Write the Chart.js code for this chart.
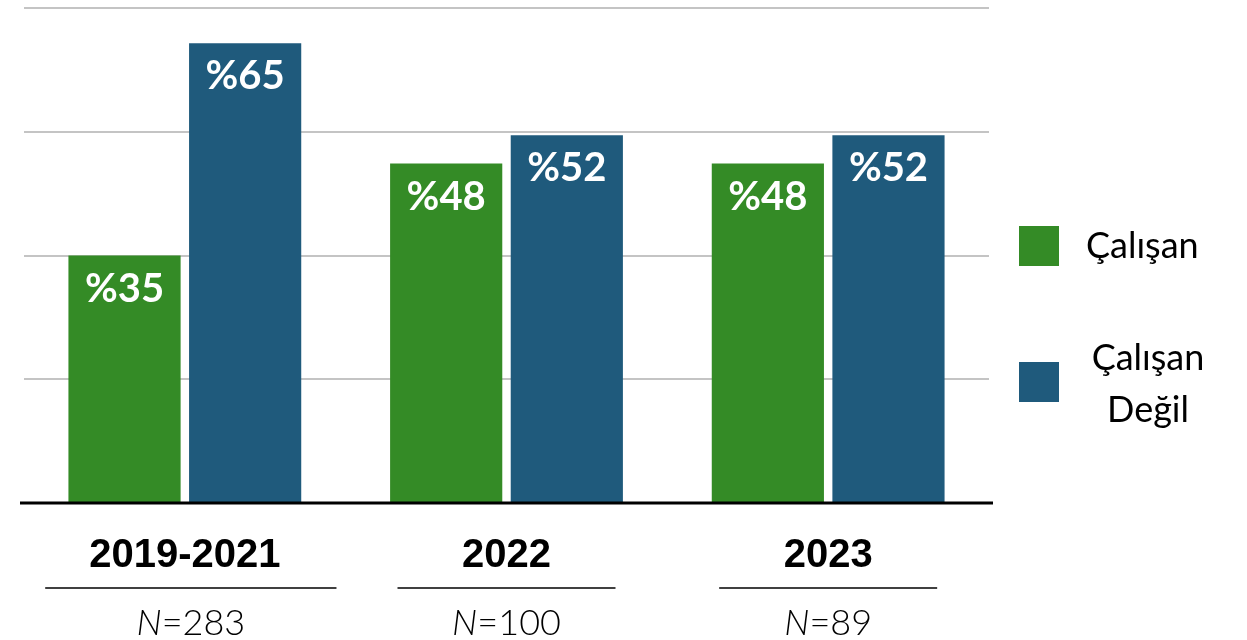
<!DOCTYPE html>
<html>
<head>
<meta charset="utf-8">
<script src="https://cdn.jsdelivr.net/npm/chart.js@4"></script>
<style>
  body { margin: 0; background: #fff; }
  #wrap { width: 1247px; height: 640px; }
</style>
</head>
<body>
<div id="wrap"><canvas id="myChart"></canvas></div>
<script>
var categories = ["2019-2021", "2022", "2023"];
var sampleSizes = ["283", "100", "89"];
var calisan = [35, 48, 48];
var calisanDegil = [65, 52, 52];
var seriesNames = ["Çalışan", ["Çalışan", "Değil"]];
var yMax = 70;
var yStep = 17.5;

var green = "#348b26";
var blue = "#1f5a7c";

// labels inside bars, category labels + N under the axis, legend on the right
var extras = {
  id: "extras",
  afterDatasetsDraw: function(chart) {
    var ctx = chart.ctx;
    var area = chart.chartArea;
    var x = chart.scales.x;

    ctx.save();
    // baseline
    ctx.strokeStyle = "#000";
    ctx.lineWidth = 3;
    ctx.beginPath();
    ctx.moveTo(area.left - 4, area.bottom);
    ctx.lineTo(area.right + 4, area.bottom);
    ctx.stroke();

    // value labels
    ctx.fillStyle = "#fff";
    ctx.font = "bold 40px Lato, 'Open Sans', sans-serif";
    ctx.textAlign = "center";
    ctx.textBaseline = "alphabetic";
    chart.data.datasets.forEach(function(ds, i) {
      chart.getDatasetMeta(i).data.forEach(function(bar, j) {
        ctx.fillText("%" + ds.data[j], bar.x, bar.y + 46);
      });
    });

    // category labels
    categories.forEach(function(cat, j) {
      var cx = x.getPixelForValue(j);
      ctx.fillStyle = "#000";
      ctx.font = "bold 40px 'Liberation Sans', Arial, sans-serif";
      ctx.textAlign = "center";
      ctx.fillText(cat, cx, 567);
      var w = Math.max(ctx.measureText(cat).width + 100, 218);
      var lx = j === 0 ? cx + 6 : cx;
      ctx.strokeStyle = "#000";
      ctx.lineWidth = 1.5;
      ctx.beginPath();
      ctx.moveTo(lx - w / 2, 588);
      ctx.lineTo(lx + w / 2, 588);
      ctx.stroke();

      // N=...
      ctx.font = "italic 300 36px Lato, sans-serif";
      var nW = ctx.measureText("N").width;
      ctx.font = "300 36px Lato, sans-serif";
      var rest = "=" + sampleSizes[j];
      var rW = ctx.measureText(rest).width;
      var sx = lx - (nW + rW) / 2;
      ctx.textAlign = "left";
      ctx.font = "italic 300 36px Lato, sans-serif";
      ctx.fillText("N", sx, 635);
      ctx.font = "300 36px Lato, sans-serif";
      ctx.fillText(rest, sx + nW, 635);
    });

    // legend
    var boxY = [226, 362];
    var textY = [[258], [370, 422]];
    var colors = [green, blue];
    ctx.font = "36px Lato, sans-serif";
    seriesNames.forEach(function(name, i) {
      ctx.fillStyle = colors[i];
      ctx.fillRect(1019, boxY[i], 40, 40);
      ctx.fillStyle = "#000";
      var lines = Array.isArray(name) ? name : [name];
      lines.forEach(function(line, k) {
        ctx.textAlign = lines.length > 1 ? "center" : "left";
        ctx.fillText(line, lines.length > 1 ? 1148 : 1086, textY[i][k]);
      });
    });
    ctx.restore();
  }
};

new Chart("myChart", {
  type: "bar",
  data: {
    labels: categories,
    datasets: [{
      label: "Çalışan",
      data: calisan,
      backgroundColor: green,
      categoryPercentage: 0.75,
      barPercentage: 0.93
    }, {
      label: "Çalışan Değil",
      data: calisanDegil,
      backgroundColor: blue,
      categoryPercentage: 0.75,
      barPercentage: 0.93
    }]
  },
  options: {
    responsive: true,
    maintainAspectRatio: false,
    animation: false,
    layout: { padding: { left: 24, right: 258, top: 8, bottom: 129 } },
    plugins: {
      legend: { display: false },
      tooltip: { enabled: false }
    },
    scales: {
      x: {
        grid: { display: false },
        border: { display: false },
        ticks: { display: false }
      },
      y: {
        min: 0,
        max: yMax,
        ticks: { display: false, stepSize: yStep },
        border: { display: false },
        grid: {
          drawTicks: false,
          lineWidth: 2,
          color: function(c) { return c.tick && c.tick.value === 0 ? "rgba(0,0,0,0)" : "#c4c4c4"; }
        }
      }
    }
  },
  plugins: [extras]
});
</script>
</body>
</html>
